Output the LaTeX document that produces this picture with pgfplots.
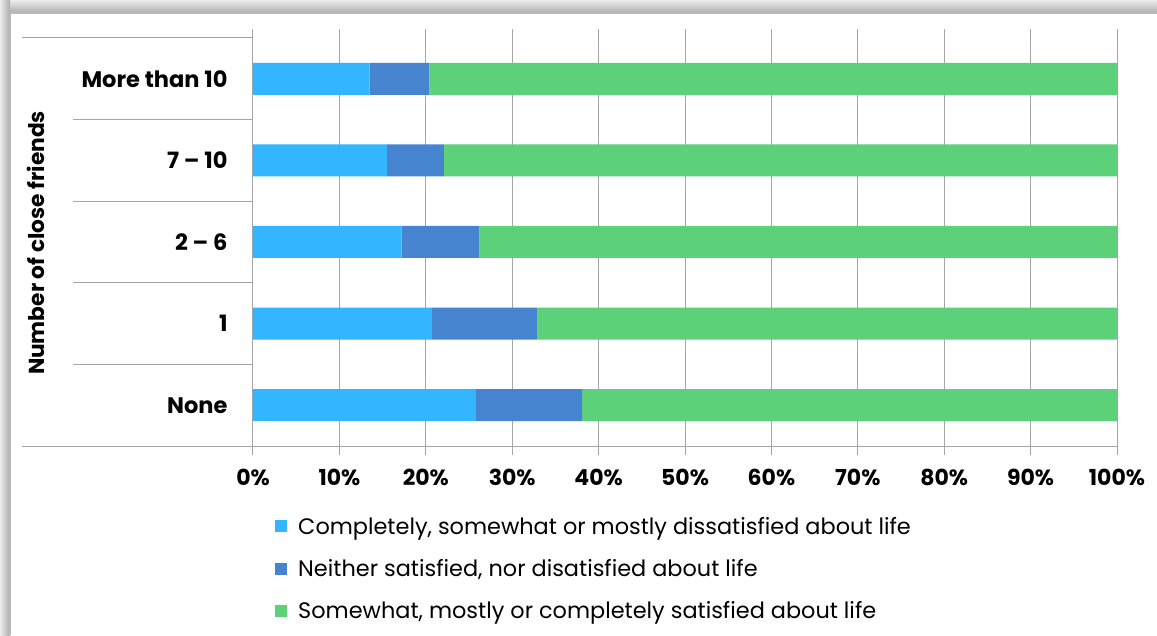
\documentclass[border=0pt]{standalone}
\usepackage{pgfplots}
\pgfplotsset{compat=1.18}
\usepackage{fontspec}
\setmainfont{Poppins}
\definecolor{c1}{HTML}{33B5FF}
\definecolor{c2}{HTML}{4684D0}
\definecolor{c3}{HTML}{5DD07A}
\definecolor{gridc}{HTML}{A6A6A6}
\begin{document}
\begin{tikzpicture}[x=1pt,y=1pt]
\path[use as bounding box] (0,0) rectangle (1157,635);
\fill[gray!30] (0,0) rectangle (1157,635);
\shade[top color=gray!15,bottom color=gray!65] (0,622) rectangle (1157,635);
\shade[left color=gray!15,right color=gray!65] (0,0) rectangle (10,635);
\fill[white] (10,0) rectangle (1157,622);
\draw[gray!55, line width=1.5pt] (10,0) -- (10,622) -- (1157,622);
\begin{axis}[
  at={(253pt,189pt)}, anchor=south west, scale only axis,
  width=864pt, height=408pt,
  xbar stacked, bar width=32pt,
  xmin=0, xmax=100, ymin=-0.5, ymax=4.5,
  clip=false,
  axis line style={draw=none},
  xtick={0,10,...,100},
  xticklabel={\pgfmathprintnumber{\tick}\%},
  xmajorgrids, grid style={gridc, line width=1pt},
  tick align=outside, major tick length=9pt,
  xtick style={gridc, line width=1pt},
  ytick={0,1,2,3,4},
  yticklabels={None,1,2 – 6,7 – 10,More than 10},
  ytick style={draw=none},
  /pgf/number format/assume math mode=true,
  xticklabel style={font=\bfseries\fontsize{22}{22}\selectfont, yshift=-11pt},
  yticklabel style={font=\bfseries\fontsize{22.5}{22.5}\selectfont, xshift=-13pt},
  ylabel={Number of close friends},
  ylabel style={at={(axis description cs:-0.251,0.4975)}, anchor=center, font=\bfseries\fontsize{21.7}{21.7}\selectfont},
  legend style={at={(axis description cs:0.0255,-0.169)}, anchor=north west, draw=none, fill=none,
    font=\fontsize{22.4}{22.4}\selectfont, row sep=19.5pt, inner sep=0pt,
    /tikz/every odd column/.append style={column sep=9pt}},
  legend cell align=left,
  legend image code/.code={\fill[#1, draw=none] (0pt,-6pt) rectangle (12pt,6pt);},
]
\addplot[fill=c1, draw=none] coordinates {(25.8,0) (20.7,1) (17.2,2) (15.5,3) (13.5,4)};
\addplot[fill=c2, draw=none] coordinates {(12.3,0) (12.2,1) (9.0,2) (6.6,3) (6.9,4)};
\addplot[fill=c3, draw=none] coordinates {(61.9,0) (67.1,1) (73.8,2) (77.9,3) (79.6,4)};
\legend{{Completely, somewhat or mostly dissatisfied about life},
        {Neither satisfied, nor disatisfied about life},
        {Somewhat, mostly or completely satisfied about life}}
\draw[gridc, line width=1pt] (axis cs:-26.74,-0.5) -- (axis cs:100,-0.5);
\draw[gridc, line width=1pt] (axis cs:-26.74,4.5) -- (axis cs:0,4.5);
\pgfplotsinvokeforeach{0.5,1.5,2.5,3.5}{
  \draw[gridc, line width=1pt] (axis cs:-20.83,#1) -- (axis cs:0,#1);
}
\end{axis}
\end{tikzpicture}
\end{document}
